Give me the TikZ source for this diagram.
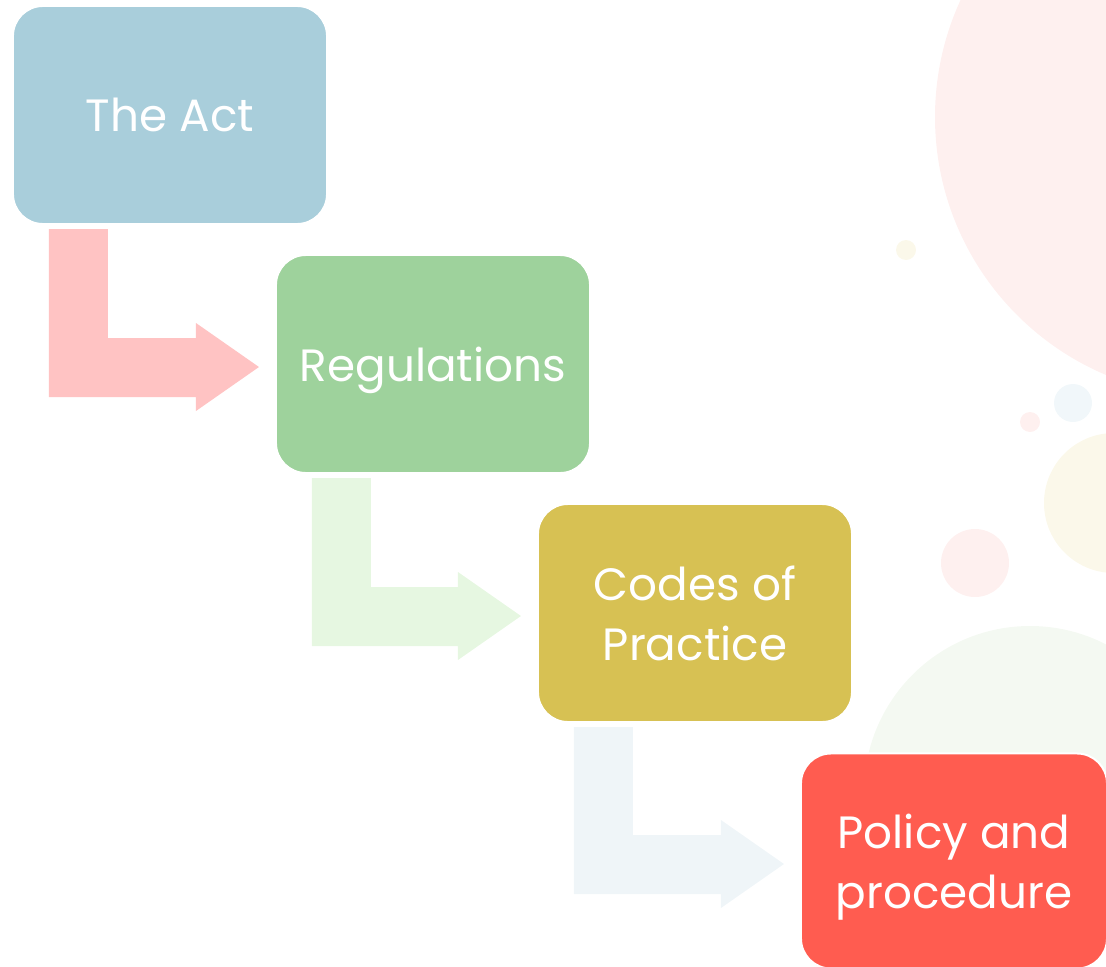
\documentclass[tikz,border=0pt]{standalone}
\usepackage{fontspec}
\setmainfont{Poppins}
\usetikzlibrary{calc}
\definecolor{actblue}{HTML}{A9CEDB}
\definecolor{reggreen}{HTML}{9ED29C}
\definecolor{codeolive}{HTML}{D7C153}
\definecolor{policyred}{HTML}{FF5C50}
\definecolor{flowpink}{HTML}{FFC3C3}
\definecolor{flowgreen}{HTML}{E6F7E1}
\definecolor{flowgray}{HTML}{EFF5F8}
\definecolor{bgpink}{HTML}{FEF0EF}
\definecolor{bgolive}{HTML}{FBF8EA}
\definecolor{bgblue}{HTML}{F1F7FA}
\definecolor{bggreen}{HTML}{F4F9F2}
\tikzset{
  stagebox/.style={rounded corners=0.75cm, draw=white, line width=0.05cm,
    align=center, text=white, inner sep=0pt, minimum width=7.85cm,
    minimum height=5.45cm, text depth=0pt,
    font=\fontsize{32.2}{42.7}\selectfont}
}
% bent block arrow: down out of #1, then right into #2
\newcommand{\stepflow}[3]{%
  \path ($(#1.south west)+(37,4)$) coordinate (sl)
        ($(#1.south west)+(96,4)$) coordinate (sr)
        ($(#2.west)+(-79,0)$) coordinate (hb)
        ($(#2.west)+(-16,3)$) coordinate (tip);
  \fill[#3] (sl) -- (sr) -- ($(sr |- hb)+(0,-26)$) -- ($(hb)+(0,-26)$)
    -- ($(hb)+(0,-41)$) -- (tip) -- ($(hb)+(0,47)$) -- ($(hb)+(0,33)$)
    -- ($(sl |- hb)+(0,33)$) -- cycle;
}

\begin{document}
\begin{tikzpicture}[x=0.025cm, y=-0.025cm]
  \useasboundingbox (0,0) rectangle (1106,967);

  % soft circles behind
  \fill[bgpink] (1215,117) circle[radius=280];
  \fill[bgolive] (906,250) circle[radius=10];
  \fill[bgblue] (1073,403) circle[radius=19];
  \fill[bgpink] (1030,422) circle[radius=10];
  \fill[bgolive] (1114,503) circle[radius=70];
  \fill[bgpink] (975,563) circle[radius=34];
  \fill[bggreen] (1030,792) circle[radius=166];

  \node[stagebox, fill=actblue] (act) at (170,115) {The Act};
  \node[stagebox, fill=reggreen] (reg) at (433,364) {Regulations};
  \node[stagebox, fill=codeolive] (codes) at (695,613) {Codes of\\Practice};
  \node[stagebox, fill=policyred, minimum width=7.65cm, minimum height=5.375cm]
    (policy) at (954,861) {Policy and\\procedure};

  \stepflow{act}{reg}{flowpink}
  \stepflow{reg}{codes}{flowgreen}
  \stepflow{codes}{policy}{flowgray}
\end{tikzpicture}
\end{document}
